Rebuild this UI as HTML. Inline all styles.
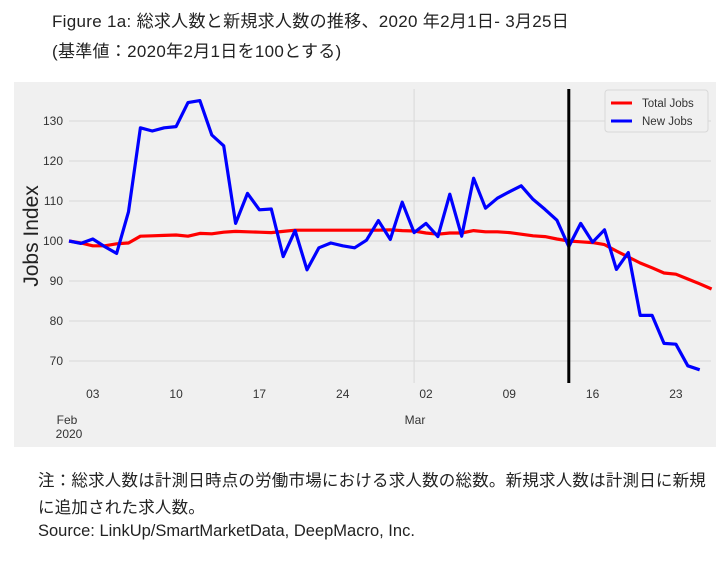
<!DOCTYPE html>
<html><head><meta charset="utf-8"><style>
body{margin:0;width:728px;height:572px;background:#fff;font-family:"Liberation Sans","Noto Sans CJK JP",sans-serif;overflow:hidden;position:relative}
.t{position:absolute;color:#222;white-space:nowrap}
</style></head><body>
<div class="t" style="left:52px;top:7px;font-size:17px;letter-spacing:0.3px">Figure 1a: 総求人数と新規求人数の推移、2020 年2月1日- 3月25日</div>
<div class="t" style="left:52px;top:37px;font-size:17px;letter-spacing:0.3px">(基準値：2020年2月1日を100とする)</div>
<svg style="position:absolute;left:0;top:0" width="728" height="572" id="svg"></svg>
<div class="t" style="left:38px;top:467px;font-size:16.5px;letter-spacing:0.2px">注：総求人数は計測日時点の労働市場における求人数の総数。新規求人数は計測日に新規</div>
<div class="t" style="left:38px;top:494px;font-size:16.5px;letter-spacing:0.2px">に追加された求人数。</div>
<div class="t" style="left:38px;top:522px;font-size:16.5px">Source: LinkUp/SmartMarketData, DeepMacro, Inc.</div>
<script>
const yTicks=[70,80,90,100,110,120,130];
const xTickDays=[2,9,16,23,30,37,44,51];
const xTickLabels=["03","10","17","24","02","09","16","23"];
const totalJobs=[100,99.5,98.8,98.8,99.3,99.5,101.2,101.3,101.4,101.5,101.2,101.9,101.8,102.2,102.4,102.3,102.2,102.1,102.4,102.7,102.7,102.7,102.7,102.7,102.7,102.7,102.7,102.8,102.6,102.5,102.0,101.7,102.0,102.0,102.6,102.3,102.3,102.1,101.7,101.3,101.1,100.5,100.0,99.8,99.6,99.1,97.5,96.0,94.5,93.3,92.0,91.7,90.5,89.3,88.0];
const newJobs=[100,99.4,100.5,98.6,96.9,107.3,128.3,127.5,128.3,128.6,134.6,135.1,126.5,123.8,104.4,111.9,107.8,108,96.1,102.6,92.8,98.3,99.5,98.8,98.3,100.2,105.1,100.4,109.7,102.1,104.4,101.1,111.7,101.2,115.7,108.2,110.7,112.3,113.8,110.4,107.9,105.2,98.6,104.4,99.7,102.8,92.9,97.1,81.4,81.4,74.4,74.2,68.8,67.8];
const eventDay=42;
const NS="http://www.w3.org/2000/svg";
const svg=document.getElementById('svg');
const X=d=>69+11.9*d, Y=v=>121+(130-v)*4;
function mk(t,a){const e=document.createElementNS(NS,t);for(const k in a)e.setAttribute(k,a[k]);svg.appendChild(e);return e;}
let bg=mk('rect',{x:14,y:82,width:702,height:365,fill:'#f0f0f0'});


yTicks.forEach(v=>{
 let g=mk('line',{x1:69,x2:711,y1:Y(v),y2:Y(v),stroke:'#dcdcdc','stroke-width':1.2});
 
 
 let t=mk('text',{x:63,y:Y(v)+4,'text-anchor':'end','font-size':12,fill:'#333','font-family':'Liberation Sans, sans-serif'});
 t.textContent=v;
 
 
});
let vg=mk('line',{x1:X(29),x2:X(29),y1:89,y2:383,stroke:'#dcdcdc','stroke-width':1.2});


xTickDays.forEach((d,i)=>{
 let t=mk('text',{x:X(d),y:398,'text-anchor':'middle','font-size':12,fill:'#333','font-family':'Liberation Sans, sans-serif'});
 t.textContent=xTickLabels[i];
 
 
});
[["Feb",67,424],["2020",69,438],["Mar",415,424]].forEach(a=>{
 let t=mk('text',{x:a[1],y:a[2],'text-anchor':'middle','font-size':12,fill:'#333','font-family':'Liberation Sans, sans-serif'});
 t.textContent=a[0];
 
 
});
let yl=mk('text',{x:0,y:0,transform:'translate(38,236) rotate(-90)','text-anchor':'middle','font-size':21,fill:'#222','font-family':'Liberation Sans, sans-serif'});
yl.textContent='Jobs Index';


let r=mk('polyline',{points:totalJobs.map((v,i)=>X(i)+','+Y(v)).join(' '),fill:'none',stroke:'#ff0000','stroke-width':3.2,'stroke-linejoin':'round'});


let b=mk('polyline',{points:newJobs.map((v,i)=>X(i)+','+Y(v)).join(' '),fill:'none',stroke:'#0000ff','stroke-width':3.2,'stroke-linejoin':'round'});


let ev=mk('line',{x1:X(eventDay),x2:X(eventDay),y1:89,y2:383,stroke:'#000','stroke-width':3});


let lg=mk('rect',{x:605,y:90,width:103,height:42,fill:'#f0f0f0',stroke:'#d8d8d8',rx:3});


[["Total Jobs","#ff0000",103],["New Jobs","#0000ff",121]].forEach(a=>{
 let l=mk('line',{x1:611,x2:632,y1:a[2],y2:a[2],stroke:a[1],'stroke-width':3});
 
 
 let t=mk('text',{x:642,y:a[2]+4,'font-size':11.5,fill:'#333','font-family':'Liberation Sans, sans-serif'});
 t.textContent=a[0];
 
 
});
</script>
</body></html>
